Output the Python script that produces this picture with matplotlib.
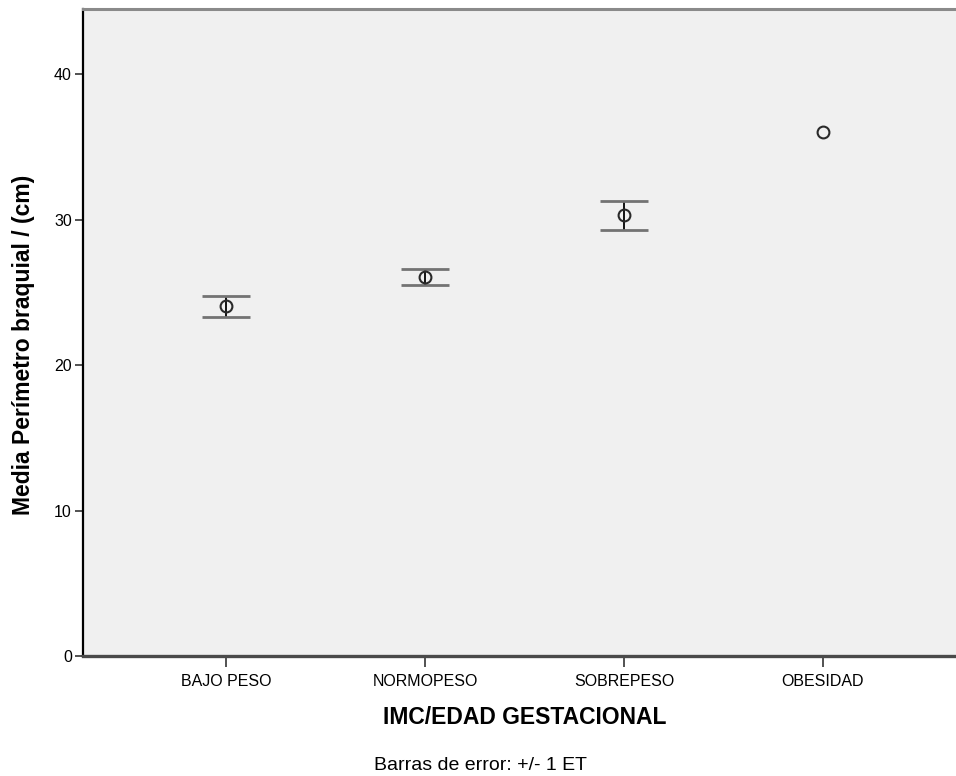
import numpy as np
import matplotlib
matplotlib.use("Agg")
import matplotlib.pyplot as plt

# medias y errores tipicos por grupo de IMC/edad gestacional
categorias = ['BAJO PESO', 'NORMOPESO', 'SOBREPESO', 'OBESIDAD']
medias = [24.05, 26.05, 30.3, 36.05]
errores = [0.72, 0.56, 0.97, np.nan]   # obesidad: un solo caso, sin ET

yticks = [0, 10, 20, 30, 40]

plt.rcParams['font.family'] = ['Liberation Sans', 'DejaVu Sans']

fig = plt.figure(figsize=(9.56, 7.76), dpi=100)
ax = fig.add_axes([83 / 956, 120 / 776, 883 / 956, 647 / 776])
ax.set_facecolor('#f0f0f0')

x = np.arange(1, len(categorias) + 1)
med = np.array(medias)
err = np.array(errores)
ok = ~np.isnan(err)

# barras de error: linea vertical negra y topes grises
ax.errorbar(x[ok], med[ok], yerr=err[ok], fmt='none', ecolor='black',
            elinewidth=1.3, capsize=0, zorder=2)
for cap_y in (med[ok] - err[ok], med[ok] + err[ok]):
    ax.plot(x[ok], cap_y, linestyle='none', marker='_', markersize=35,
            markeredgewidth=2.0, color='#737373', zorder=3)

ax.plot(x, med, linestyle='none', marker='o', markersize=8.5,
        markerfacecolor='none', markeredgecolor='#2a2a2a',
        markeredgewidth=1.5, zorder=4)

ax.set_xlim(0.28, 4.72)
ax.set_ylim(0, 44.5)
ax.set_xticks(x)
ax.set_xticklabels(categorias)
ax.set_yticks(yticks)

ax.tick_params(axis='x', length=8, width=1.2, color='#333333', pad=5,
               labelsize=11.5)
ax.tick_params(axis='y', length=6, width=1.2, color='#333333', pad=2,
               labelsize=11.5)

ax.spines['left'].set_color('black')
ax.spines['left'].set_linewidth(1.6)
ax.spines['bottom'].set_color('#4a4a4a')
ax.spines['bottom'].set_linewidth(2.4)
ax.spines['top'].set_color('#8a8a8a')
ax.spines['top'].set_linewidth(2.2)
ax.spines['right'].set_visible(False)

fig.text(24 / 956, 0.555, 'Media Perímetro braquial / (cm)', rotation=90,
         ha='center', va='center', fontsize=16.5, fontweight='bold')
fig.text(525 / 956, 1 - 718 / 776, 'IMC/EDAD GESTACIONAL',
         ha='center', va='center', fontsize=16.5, fontweight='bold')
fig.text(481 / 956, 1 - 766 / 776, 'Barras de error: +/- 1 ET',
         ha='center', va='center', fontsize=14)

fig.savefig('out.png', dpi=100)
